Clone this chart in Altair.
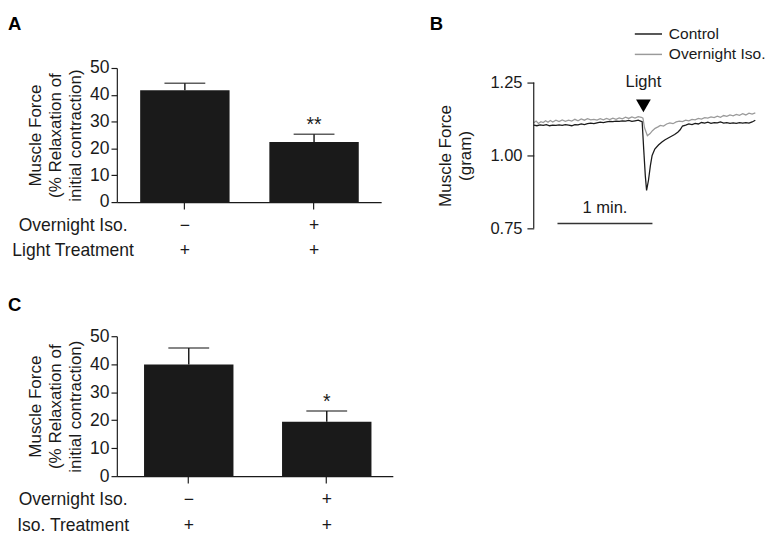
import altair as alt
import pandas as pd

FONT = "Liberation Sans"
INK = "#1a1a1a"
GREY = "#9a9a9a"

# ---------------- Panel A / C data ----------------
group_keys = ["no_iso", "iso"]

a_means = [41.7, 22.4]
a_upper = [44.3, 25.3]
a_sig = ["", "**"]
a_row1 = ["\u2212", "+"]
a_row2 = ["+", "+"]
a_row_names = ["Overnight Iso.", "Light Treatment"]

c_means = [39.9, 19.4]
c_upper = [45.8, 23.3]
c_sig = ["", "*"]
c_row1 = ["\u2212", "+"]
c_row2 = ["+", "+"]
c_row_names = ["Overnight Iso.", "Iso. Treatment"]

bar_ticks = [0, 10, 20, 30, 40, 50]
bar_title = ["Muscle Force", "(% Relaxation of", "initial contraction)"]

# ---------------- Panel B data ----------------
series_names = ["Control", "Overnight Iso."]

control_t = [0, 2, 4, 6, 8, 10, 12, 14, 16, 18, 20, 22, 24, 26, 28, 30, 32, 34, 36, 38,
             40, 42, 44, 46, 48, 50, 52, 54, 56, 58, 60, 62, 64, 66, 67.5, 68.5, 69.5,
             70.5, 71.3, 72.5, 73.7, 74.8, 76.5, 78.8, 81, 83, 85, 87, 89, 91, 92.5, 94,
             96, 98, 100, 102, 104, 106, 108, 110, 112, 114, 116, 118, 120, 122, 124, 126,
             128, 130, 132, 134, 136, 138, 140]
control_v = [1.104, 1.102, 1.105, 1.103, 1.106, 1.102, 1.104, 1.103, 1.105, 1.103, 1.106,
             1.104, 1.102, 1.106, 1.105, 1.108, 1.106, 1.109, 1.111, 1.109, 1.112, 1.114,
             1.113, 1.115, 1.117, 1.116, 1.118, 1.117, 1.119, 1.118, 1.120, 1.117, 1.119,
             1.121, 1.118, 1.116, 1.020, 0.930, 0.880, 0.915, 0.965, 1.000, 1.022, 1.036,
             1.046, 1.054, 1.060, 1.066, 1.072, 1.080, 1.088, 1.101, 1.104, 1.108, 1.106,
             1.110, 1.108, 1.113, 1.111, 1.114, 1.110, 1.113, 1.112, 1.115, 1.111, 1.113,
             1.110, 1.112, 1.110, 1.113, 1.111, 1.113, 1.111, 1.115, 1.121]

iso_t = [0, 1.5, 3, 4.5, 6, 7.5, 9, 10.5, 12, 14, 16, 18, 20, 22, 24, 26, 28, 30, 32, 34,
         36, 38, 40, 42, 44, 46, 48, 50, 52, 54, 56, 58, 60, 62, 64, 66, 68, 69, 70, 71.8,
         73.5, 75, 76.7, 78.5, 80, 82, 84, 86, 88, 90, 92, 94, 96, 98, 100, 102, 104, 106,
         108, 110, 112, 114, 116, 118, 120, 122, 124, 126, 128, 130, 132, 134, 136, 138, 140]
iso_v = [1.112, 1.118, 1.110, 1.116, 1.113, 1.119, 1.114, 1.120, 1.115, 1.121, 1.116,
         1.122, 1.117, 1.121, 1.118, 1.124, 1.119, 1.125, 1.121, 1.126, 1.122, 1.124,
         1.121, 1.126, 1.122, 1.127, 1.123, 1.128, 1.124, 1.129, 1.126, 1.131, 1.127,
         1.132, 1.128, 1.133, 1.131, 1.128, 1.095, 1.068, 1.075, 1.085, 1.093, 1.098,
         1.103, 1.101, 1.108, 1.112, 1.109, 1.115, 1.118, 1.116, 1.121, 1.119, 1.124,
         1.122, 1.127, 1.125, 1.130, 1.128, 1.132, 1.130, 1.135, 1.131, 1.137, 1.134,
         1.139, 1.136, 1.141, 1.138, 1.143, 1.139, 1.145, 1.142, 1.146]

b_ticks = [0.75, 1.00, 1.25]
b_title = ["Muscle Force", "(gram)"]
b_time_domain = [0, 140]
b_force_domain = [0.75, 1.30]   # headroom above the 1.25 tick for the "Light" marker

light_t = [69.3]
light_marker_v = [1.17]
light_text_v = [1.253]
light_label = ["Light"]

scalebar_t0 = [15]
scalebar_t1 = [75]
scalebar_v = [0.767]
scalebar_mid = [45]
scalebar_text_v = [0.82]
scalebar_label = ["1 min."]

LABEL_FS = 18
TITLE_FS = 17.5


def bar_panel(letter, means, upper, sig, row1, row2, row_names, width, height,
              p_in, p_out, band_align, letter_xy, name_x, row_y):
    df = pd.DataFrame({"g": group_keys, "mean": means, "upper": upper,
                       "sig": sig, "r1": row1, "r2": row2})
    base = alt.Chart(df)
    xenc = alt.X("g:N", sort=group_keys,
                 scale=alt.Scale(paddingInner=p_in, paddingOuter=p_out, align=band_align),
                 axis=alt.Axis(title=None, labels=False, ticks=True, tickSize=7,
                               tickColor=INK, domainColor=INK, tickWidth=1.2,
                               domainWidth=1.2, grid=False))
    yscale = alt.Scale(domain=[0, 50], nice=False)
    yaxis = alt.Axis(values=bar_ticks, title=bar_title, titleFontSize=TITLE_FS,
                     titleFontWeight="normal", titleColor=INK, titleLineHeight=21,
                     titlePadding=5, labelFontSize=LABEL_FS, labelColor=INK, labelPadding=2,
                     tickSize=6, tickColor=INK, domainColor=INK, tickWidth=1.2,
                     domainWidth=1.2, grid=False)
    y_mean = alt.Y("mean:Q", scale=yscale, axis=yaxis)
    y_upper = alt.Y("upper:Q", scale=yscale, axis=yaxis)

    bars = base.mark_bar(color=INK).encode(x=xenc, y=y_mean)
    err = base.mark_rule(color=INK, strokeWidth=1.5).encode(x=xenc, y=y_mean, y2="upper:Q")
    cap = base.mark_tick(color=INK, size=42, thickness=1.5).encode(x=xenc, y=y_upper)
    stars = base.mark_text(fontSize=20, color=INK, baseline="alphabetic", dy=-3).encode(
        x=xenc, y=y_upper, text="sig:N")
    r1 = base.mark_text(fontSize=LABEL_FS, color=INK, baseline="middle").encode(
        x=xenc, y=alt.value(height + row_y[0]), text="r1:N")
    r2 = base.mark_text(fontSize=LABEL_FS, color=INK, baseline="middle").encode(
        x=xenc, y=alt.value(height + row_y[1]), text="r2:N")
    n1 = alt.Chart(pd.DataFrame({"name": [row_names[0]]})).mark_text(
        fontSize=LABEL_FS, color=INK, align="center", baseline="middle").encode(
        x=alt.value(name_x), y=alt.value(height + row_y[0]), text="name:N")
    n2 = alt.Chart(pd.DataFrame({"name": [row_names[1]]})).mark_text(
        fontSize=LABEL_FS, color=INK, align="center", baseline="middle").encode(
        x=alt.value(name_x), y=alt.value(height + row_y[1]), text="name:N")
    lab = alt.Chart(pd.DataFrame({"panel": [letter]})).mark_text(
        fontSize=19, fontWeight="bold", color="#000", align="left", baseline="top").encode(
        x=alt.value(letter_xy[0]), y=alt.value(letter_xy[1]), text="panel:N")
    return alt.layer(bars, err, cap, stars, r1, r2, n1, n2, lab).properties(
        width=width, height=height)


panel_a = bar_panel("A", a_means, a_upper, a_sig, a_row1, a_row2, a_row_names,
                    272, 138, 0.308, 0.177, 0.51, (-112, -54), -45, (25, 50))
panel_c = bar_panel("C", c_means, c_upper, c_sig, c_row1, c_row2, c_row_names,
                    284, 144, 0.352, 0.176, 0.56, (-112, -41), -45, (25, 51))

# ---------------- Panel B ----------------
B_W, B_H = 228, 165
trace_df = pd.concat([
    pd.DataFrame({"t": iso_t, "v": iso_v, "series": series_names[1]}),
    pd.DataFrame({"t": control_t, "v": control_v, "series": series_names[0]}),
], ignore_index=True)

xscale_b = alt.Scale(domain=b_time_domain, nice=False, zero=False)
yscale_b = alt.Scale(domain=b_force_domain, nice=False, zero=False)
# title centred on the drawn axis segment (0.75 .. 1.25)
title_y = B_H * (b_force_domain[1] - (b_ticks[0] + b_ticks[-1]) / 2) / (
    b_force_domain[1] - b_force_domain[0])
yaxis_b = alt.Axis(values=b_ticks, format=".2f", title=b_title, titleFontSize=TITLE_FS,
                   titleFontWeight="normal", titleColor=INK, titleLineHeight=21,
                   titlePadding=16, titleY=title_y, labelFontSize=17, labelColor=INK,
                   labelPadding=5, tickSize=7, tickColor=INK, tickWidth=1.2,
                   domain=False, grid=False)
color_b = alt.Scale(domain=series_names, range=[INK, GREY])

lines = alt.Chart(trace_df).mark_line(strokeWidth=1.3).encode(
    x=alt.X("t:Q", scale=xscale_b, axis=None),
    y=alt.Y("v:Q", scale=yscale_b, axis=yaxis_b),
    color=alt.Color("series:N", scale=color_b, legend=None),
    detail="series:N",
)

# y axis line drawn only between the first and last tick
axis_df = pd.DataFrame({"lo": [b_ticks[0]], "hi": [b_ticks[-1]]})
axis_line = alt.Chart(axis_df).mark_rule(color=INK, strokeWidth=1.2).encode(
    x=alt.value(0),
    y=alt.Y("lo:Q", scale=yscale_b, axis=yaxis_b), y2="hi:Q")

# hand-drawn key (stroke swatch + label) above the traces
key_layers = []
for i, name in enumerate(series_names):
    kdf = pd.DataFrame({"series": [name]})
    key_layers.append(alt.Chart(kdf).mark_rule(strokeWidth=1.5).encode(
        x=alt.value(104), x2=alt.value(132), y=alt.value(-35 + 21 * i),
        color=alt.Color("series:N", scale=color_b, legend=None)))
    key_layers.append(alt.Chart(kdf).mark_text(
        fontSize=16, color=INK, align="left", baseline="middle").encode(
        x=alt.value(139), y=alt.value(-35 + 21 * i), text="series:N"))

light_df = pd.DataFrame({"t": light_t, "mv": light_marker_v, "tv": light_text_v,
                         "label": light_label})
marker = alt.Chart(light_df).mark_point(shape="triangle-down", filled=True, size=230,
                                        color="#000", opacity=1).encode(
    x=alt.X("t:Q", scale=xscale_b, axis=None),
    y=alt.Y("mv:Q", scale=yscale_b, axis=yaxis_b))
light_text = alt.Chart(light_df).mark_text(fontSize=17, color=INK, baseline="middle").encode(
    x=alt.X("t:Q", scale=xscale_b, axis=None),
    y=alt.Y("tv:Q", scale=yscale_b, axis=yaxis_b),
    text="label:N")

sb_df = pd.DataFrame({"t0": scalebar_t0, "t1": scalebar_t1, "v": scalebar_v,
                      "tm": scalebar_mid, "tv": scalebar_text_v, "label": scalebar_label})
scalebar = alt.Chart(sb_df).mark_rule(color="#333", strokeWidth=1.5).encode(
    x=alt.X("t0:Q", scale=xscale_b, axis=None), x2="t1:Q",
    y=alt.Y("v:Q", scale=yscale_b, axis=yaxis_b))
scalebar_text = alt.Chart(sb_df).mark_text(fontSize=17, color=INK, baseline="middle").encode(
    x=alt.X("tm:Q", scale=xscale_b, axis=None),
    y=alt.Y("tv:Q", scale=yscale_b, axis=yaxis_b),
    text="label:N")

b_lab = alt.Chart(pd.DataFrame({"panel": ["B"]})).mark_text(
    fontSize=19, fontWeight="bold", color="#000", align="left", baseline="top").encode(
    x=alt.value(-107), y=alt.value(-54), text="panel:N")

panel_b = alt.layer(lines, axis_line, marker, light_text, scalebar, scalebar_text, b_lab,
                    *key_layers).properties(width=B_W, height=B_H)

top_row = alt.hconcat(panel_a, panel_b, spacing=50)
chart = alt.vconcat(top_row, panel_c, spacing=38).properties(padding=0).configure(
    font=FONT).configure_view(stroke=None)

chart.save("out.html", embed_options={"renderer": "svg", "actions": False})
